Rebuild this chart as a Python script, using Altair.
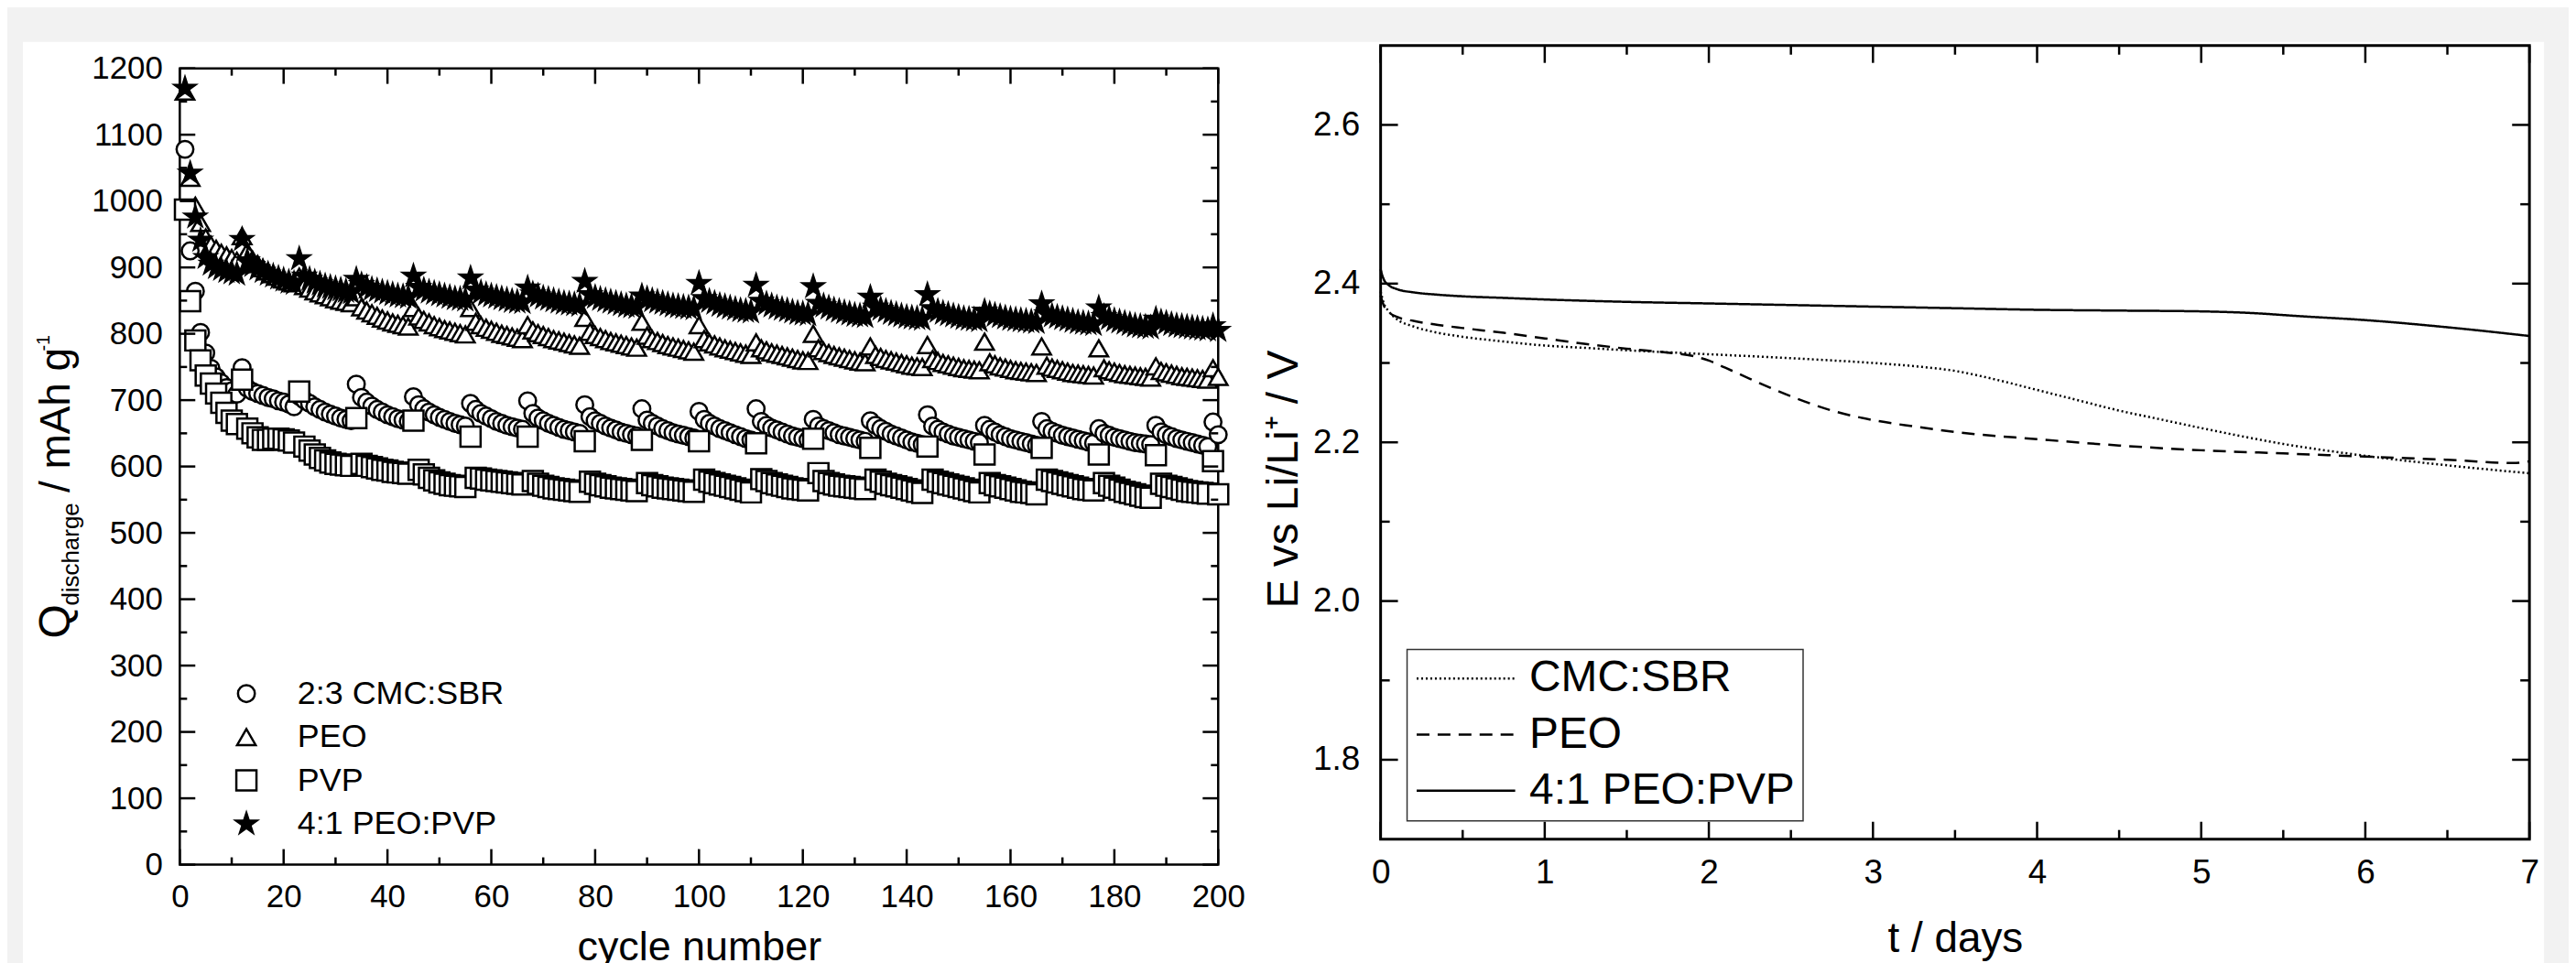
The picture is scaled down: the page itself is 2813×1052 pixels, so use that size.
import altair as alt
import pandas as pd

FONT = "Liberation Sans"

# ---------------- left panel data (discharge capacity vs cycle) ----------------
cycles = list(range(1, 201))
names_left = ["2:3 CMC:SBR", "PEO", "PVP", "4:1 PEO:PVP"]

cmc_sbr = [
    1078, 925, 864, 802, 771, 748, 735, 726, 719, 714, 709,
    749, 718, 713, 710, 707, 704, 702, 699, 697, 694, 690,
    706, 700, 695, 690, 686, 682, 679, 676, 673, 671, 669,
    724, 704, 697, 691, 686, 682, 678, 675, 672, 670, 668,
    705, 693, 687, 682, 678, 674, 671, 668, 665, 663, 661,
    695, 686, 680, 676, 672, 668, 665, 662, 660, 658, 656,
    699, 680, 673, 669, 665, 662, 659, 656, 654, 652, 650,
    693, 675, 669, 665, 661, 658, 655, 652, 650, 648, 646,
    687, 670, 665, 661, 657, 654, 651, 649, 647, 645, 643,
    683, 671, 665, 661, 657, 654, 651, 648, 645, 642, 640,
    687, 668, 662, 658, 655, 652, 649, 646, 644, 642, 640,
    671, 661, 657, 654, 651, 648, 646, 644, 642, 640, 638,
    669, 662, 657, 653, 649, 646, 643, 640, 637, 635, 633,
    678, 661, 656, 652, 649, 646, 644, 642, 640, 638, 636,
    662, 656, 652, 648, 645, 642, 640, 638, 636, 634, 632,
    668, 657, 653, 650, 647, 645, 643, 641, 639, 637, 635,
    657, 650, 647, 644, 642, 640, 638, 636, 635, 634, 633,
    662, 652, 648, 645, 642, 640, 638, 636, 634, 632, 630,
    667, 648,
]
peo = [
    1165, 1035, 993, 967, 945, 934, 928, 922, 918, 914, 910,
    947, 924, 912, 905, 899, 894, 890, 886, 882, 879, 876,
    886, 872, 868, 864, 861, 858, 855, 852, 850, 848, 846,
    855, 840, 835, 831, 827, 823, 820, 817, 815, 813, 811,
    839, 826, 821, 817, 813, 810, 807, 805, 803, 801, 799,
    839, 818, 813, 809, 806, 803, 800, 798, 796, 794, 792,
    813, 805, 801, 798, 795, 792, 790, 788, 786, 784, 782,
    824, 803, 798, 795, 792, 789, 787, 785, 783, 781, 779,
    818, 797, 792, 789, 786, 783, 781, 779, 777, 775, 773,
    813, 792, 787, 784, 781, 778, 776, 774, 772, 770, 768,
    787, 778, 775, 772, 770, 768, 766, 764, 762, 760, 759,
    800, 778, 774, 771, 768, 766, 764, 762, 760, 758, 757,
    781, 768, 765, 762, 760, 758, 756, 754, 752, 751, 750,
    783, 762, 759, 756, 754, 752, 750, 748, 747, 746, 745,
    788, 757, 754, 751, 749, 747, 745, 744, 743, 742, 741,
    781, 752, 749, 747, 745, 743, 741, 740, 739, 738, 737,
    778, 748, 745, 743, 741, 739, 738, 737, 736, 735, 734,
    751, 744, 742, 740, 738, 736, 735, 734, 733, 732, 731,
    748, 735,
]
pvp = [
    987, 849, 790, 760, 737, 725, 710, 696, 681, 669, 664,
    731, 657, 650, 644, 640, 640, 642, 642, 641, 639, 636,
    713, 630, 624, 618, 613, 609, 606, 604, 603, 602, 601,
    673, 604, 601, 599, 597, 595, 594, 592, 591, 590, 589,
    669, 595, 588, 583, 579, 576, 574, 572, 571, 570, 569,
    645, 583, 582, 580, 579, 578, 577, 576, 575, 574, 573,
    645, 578, 574, 571, 569, 567, 566, 565, 564, 563, 562,
    638, 577, 574, 572, 570, 568, 567, 566, 565, 564, 563,
    640, 575, 572, 570, 568, 567, 566, 565, 564, 563, 562,
    638, 580, 577, 575, 573, 571, 569, 567, 565, 563, 561,
    635, 581, 578, 575, 573, 571, 569, 567, 566, 565, 564,
    642, 590, 578, 575, 573, 571, 570, 569, 568, 567, 566,
    628, 580, 577, 574, 572, 570, 568, 566, 564, 562, 560,
    630, 580, 577, 575, 573, 571, 569, 567, 565, 563, 561,
    618, 575, 572, 570, 568, 566, 564, 562, 561, 560, 558,
    628, 580, 578, 576, 574, 572, 570, 568, 566, 565, 564,
    618, 575, 571, 568, 565, 562, 560, 558, 556, 554, 553,
    617, 574, 571, 569, 567, 565, 563, 562, 561, 560, 559,
    608, 558,
]
peo_pvp = [
    1170, 1042, 976, 941, 915, 905, 900, 897, 894, 892, 890,
    942, 910, 903, 898, 894, 890, 887, 884, 881, 878, 876,
    913, 887, 882, 878, 875, 872, 870, 868, 866, 864, 862,
    882, 874, 870, 867, 865, 863, 861, 859, 857, 856, 855,
    887, 870, 866, 863, 861, 859, 857, 855, 853, 852, 851,
    884, 866, 862, 859, 857, 855, 853, 851, 849, 848, 847,
    869, 860, 857, 854, 852, 850, 848, 846, 845, 844, 843,
    879, 859, 855, 852, 850, 848, 846, 844, 842, 841, 840,
    857, 853, 850, 848, 846, 844, 842, 841, 840, 839, 838,
    876, 853, 849, 846, 843, 841, 839, 837, 835, 834, 833,
    873, 849, 845, 842, 839, 837, 835, 833, 831, 830, 829,
    871, 846, 842, 839, 836, 834, 832, 830, 828, 827, 826,
    855, 840, 837, 834, 831, 829, 827, 825, 824, 823, 822,
    859, 838, 834, 831, 829, 827, 825, 823, 822, 821, 820,
    834, 830, 828, 826, 824, 822, 821, 820, 819, 818, 817,
    845, 830, 827, 825, 823, 821, 819, 817, 816, 815, 814,
    839, 826, 823, 820, 818, 816, 814, 812, 811, 810, 809,
    822, 818, 816, 814, 812, 811, 810, 809, 808, 807, 806,
    812, 805,
]

left_x_major = [0, 20, 40, 60, 80, 100, 120, 140, 160, 180, 200]
left_x_minor = [10, 30, 50, 70, 90, 110, 130, 150, 170, 190]
left_y_major = [0, 100, 200, 300, 400, 500, 600, 700, 800, 900, 1000, 1100, 1200]
left_y_minor = [50, 150, 250, 350, 450, 550, 650, 750, 850, 950, 1050, 1150]

# ---------------- right panel data (OCV vs time) ----------------
names_right = ["CMC:SBR", "PEO", "4:1 PEO:PVP"]
t_cmc = [0, 0.02, 0.05, 0.1, 0.2, 0.35, 0.5, 0.75, 1, 1.25, 1.5, 2, 2.5, 3, 3.25,
         3.5, 3.75, 4, 4.25, 4.5, 4.75, 5, 5.5, 6, 6.5, 7]
e_cmc = [2.39, 2.375, 2.365, 2.355, 2.346, 2.338, 2.333, 2.327, 2.322, 2.319, 2.316,
         2.311, 2.306, 2.300, 2.296, 2.290, 2.279, 2.266, 2.253, 2.240, 2.229, 2.218,
         2.198, 2.183, 2.171, 2.161]
t_peo = [0, 0.02, 0.05, 0.1, 0.2, 0.35, 0.5, 0.75, 1, 1.25, 1.5, 1.75, 1.9, 2.0, 2.1,
         2.25, 2.5, 2.75, 3, 3.25, 3.5, 4, 4.5, 5, 5.5, 6, 6.5, 6.9, 7]
e_peo = [2.385, 2.372, 2.364, 2.358, 2.353, 2.348, 2.344, 2.338, 2.331, 2.324, 2.318,
         2.313, 2.309, 2.303, 2.294, 2.280, 2.258, 2.240, 2.228, 2.220, 2.213, 2.204,
         2.196, 2.190, 2.186, 2.182, 2.178, 2.174, 2.176]
t_mix = [0, 0.02, 0.05, 0.1, 0.2, 0.35, 0.5, 0.75, 1, 1.5, 2, 2.5, 3, 3.5, 4, 4.5,
         5, 5.3, 5.6, 6, 6.5, 7]
e_mix = [2.418, 2.405, 2.398, 2.393, 2.389, 2.386, 2.384, 2.382, 2.380, 2.377, 2.375,
         2.373, 2.371, 2.369, 2.367, 2.366, 2.365, 2.363, 2.359, 2.354, 2.345, 2.334]

right_x_major = [0, 1, 2, 3, 4, 5, 6, 7]
right_x_minor = [0.5, 1.5, 2.5, 3.5, 4.5, 5.5, 6.5]
right_y_major = [1.8, 2.0, 2.2, 2.4, 2.6]
right_y_minor = [1.9, 2.1, 2.3, 2.5]

# ---------------- tables ----------------
rows = []
for name, vals in zip(names_left, [cmc_sbr, peo, pvp, peo_pvp]):
    for c, v in zip(cycles, vals):
        rows.append({"cycle": c, "Q": v, "binder": name})
df_left = pd.DataFrame(rows)
df_left["order"] = range(len(df_left))

rows = []
for name, ts, es in zip(names_right, [t_cmc, t_peo, t_mix], [e_cmc, e_peo, e_mix]):
    for t, e in zip(ts, es):
        rows.append({"t": t, "E": e, "binder": name})
df_right = pd.DataFrame(rows)

one = pd.DataFrame({"a": [0]})

# ---------------- geometry ----------------
LW, LH = 1138, 898      # left panel (plot top sits 25 px below group top)
LTOP = 25
RW, RH = 1259, 870
RX0 = LW + 178           # right panel origin relative to the left one

STAR = ("M0,-1L0.2245,-0.309L0.9511,-0.309L0.3633,0.118L0.5878,0.809L0,0.382"
        "L-0.5878,0.809L-0.3633,0.118L-0.9511,-0.309L-0.2245,-0.309Z")


def rules_x(values, scale, axis, y0, y1, w=2.5):
    return alt.Chart(pd.DataFrame({"v": values})).mark_rule(color="black", strokeWidth=w).encode(
        x=alt.X("v:Q", scale=scale, axis=axis), y=alt.value(y0), y2=alt.value(y1))


def rules_y(values, scale, axis, x0, x1, w=2.5):
    return alt.Chart(pd.DataFrame({"v": values})).mark_rule(color="black", strokeWidth=w).encode(
        y=alt.Y("v:Q", scale=scale, axis=axis), x=alt.value(x0), x2=alt.value(x1))


def label(txt, x, y, size):
    return alt.Chart(one).mark_text(text=txt, font=FONT, fontSize=size, angle=270,
                                    align="left", baseline="alphabetic", color="black").encode(
        x=alt.value(x), y=alt.value(y))


# ---------------- left chart ----------------
lxs = alt.Scale(domain=[0, 200], nice=False, zero=False)
lys = alt.Scale(domain=[0, 1200], range=[LH, LTOP], nice=False, zero=False)

lx_axis = alt.Axis(values=left_x_major, title="cycle number", titleFontSize=45,
                   titleFontWeight="normal", titleBaseline="alphabetic", titleY=104,
                   labelFontSize=35, labelPadding=18, labelFlush=False,
                   labelOverlap=False, ticks=False, tickSize=0, domain=False,
                   grid=False, zindex=1)
ly_axis = alt.Axis(values=left_y_major, title=None, format="d",
                   labelFontSize=35, labelPadding=19, labelOverlap=False,
                   ticks=False, tickSize=0, domain=False, grid=False, zindex=1)

backdrop = alt.Chart(one).mark_rect(color="white").encode(
    x=alt.value(-172), x2=alt.value(2591), y=alt.value(-4), y2=alt.value(1025))

lframe = alt.Chart(one).mark_rect(fill="transparent", stroke="black", strokeWidth=2.5).encode(
    x=alt.value(0), x2=alt.value(LW), y=alt.value(LTOP), y2=alt.value(LH))

leg_left = alt.Legend(orient="none", legendX=55, legendY=693, title=None,
                      labelFontSize=36, labelFont=FONT, labelOffset=38, rowPadding=10.6,
                      clipHeight=35, padding=0, labelLimit=800, symbolStrokeColor="black",
                      symbolStrokeWidth=2.5, zindex=1)

points = alt.Chart(df_left).mark_point(filled=True, opacity=1, strokeWidth=2.5).encode(
    x=alt.X("cycle:Q", scale=lxs, axis=lx_axis),
    y=alt.Y("Q:Q", scale=lys, axis=ly_axis),
    shape=alt.Shape("binder:N", scale=alt.Scale(domain=names_left,
                                                range=["circle", "triangle-up", "square", STAR]),
                    legend=leg_left),
    fill=alt.Fill("binder:N", scale=alt.Scale(domain=names_left,
                                              range=["white", "white", "white", "black"]),
                  legend=leg_left),
    stroke=alt.Stroke("binder:N", scale=alt.Scale(domain=names_left,
                                                  range=["black", "black", "black", "black"]),
                      legend=leg_left),
    size=alt.Size("binder:N", scale=alt.Scale(domain=names_left, range=[340, 560, 320, 520]),
                  legend=leg_left),
    order=alt.Order("order:Q"),
)

left = alt.layer(
    backdrop,
    lframe,
    points,
    rules_x(left_x_major, lxs, lx_axis, LH, LH - 17),
    rules_x(left_x_major, lxs, lx_axis, LTOP, LTOP + 17),
    rules_x(left_x_minor, lxs, lx_axis, LH, LH - 8),
    rules_x(left_x_minor, lxs, lx_axis, LTOP, LTOP + 8),
    rules_y(left_y_major, lys, ly_axis, 0, 17),
    rules_y(left_y_major, lys, ly_axis, LW, LW - 17),
    rules_y(left_y_minor, lys, ly_axis, 0, 8),
    rules_y(left_y_minor, lys, ly_axis, LW, LW - 8),
    label("Q", -121, 650, 48),
    label("discharge", -111, 614, 26),
    label("/ mAh g", -121, 490, 46),
    label("-1", -143, 335, 20),
).properties(width=LW, height=LH)

# ---------------- right chart ----------------
rxs = alt.Scale(domain=[0, 7], nice=False, zero=False)
rys = alt.Scale(domain=[1.7, 2.7], nice=False, zero=False)

rx_axis = alt.Axis(values=right_x_major, title="t / days", titleFontSize=46,
                   titleFontWeight="normal", titleBaseline="alphabetic", titleY=123,
                   labelFontSize=37, labelPadding=19, labelFlush=False,
                   labelOverlap=False, ticks=False, tickSize=0, domain=False,
                   grid=False, zindex=1)
ry_axis = alt.Axis(values=right_y_major, format=".1f", title="E vs Li/Li\u207a / V",
                   titleFontSize=48, titleFontWeight="normal", titleAngle=270,
                   titleAlign="center", titleBaseline="alphabetic",
                   titleX=-91, titleY=475,
                   labelFontSize=37, labelPadding=23, labelOverlap=False,
                   ticks=False, tickSize=0, domain=False, grid=False, zindex=1)

rframe = alt.Chart(one).mark_rect(fill="transparent", stroke="black", strokeWidth=3).encode(
    x=alt.value(0), x2=alt.value(RW), y=alt.value(0), y2=alt.value(RH))

leg_right = alt.Legend(orient="none", legendX=RX0 + 29, legendY=662, title=None,
                       labelFontSize=48, labelFont=FONT, labelOffset=14, rowPadding=13.5,
                       clipHeight=46, padding=9, labelLimit=800, symbolType="stroke",
                       symbolSize=11664, symbolStrokeColor="black", strokeColor="#333333",
                       fillColor="white", zindex=1)

lines = alt.Chart(df_right).mark_line(interpolate="monotone", color="black").encode(
    x=alt.X("t:Q", scale=rxs, axis=rx_axis),
    y=alt.Y("E:Q", scale=rys, axis=ry_axis),
    strokeDash=alt.StrokeDash("binder:N", scale=alt.Scale(domain=names_right,
                                                          range=[[2, 3], [14, 9], [1, 0]]),
                              legend=leg_right),
    strokeWidth=alt.StrokeWidth("binder:N", scale=alt.Scale(domain=names_right,
                                                            range=[2.5, 2.5, 3]),
                                legend=leg_right),
)

right = alt.layer(
    rframe,
    lines,
    rules_x(right_x_major, rxs, rx_axis, RH, RH - 19),
    rules_x(right_x_major, rxs, rx_axis, 0, 19),
    rules_x(right_x_minor, rxs, rx_axis, RH, RH - 10),
    rules_x(right_x_minor, rxs, rx_axis, 0, 10),
    rules_y(right_y_major, rys, ry_axis, 0, 19),
    rules_y(right_y_major, rys, ry_axis, RW, RW - 19),
    rules_y(right_y_minor, rys, ry_axis, 0, 10),
    rules_y(right_y_minor, rys, ry_axis, RW, RW - 10),
).properties(width=RW, height=RH)

chart = alt.hconcat(left, right, spacing=178, bounds="flush").properties(
    background="#f2f2f2",
    padding={"left": 16, "top": 35, "right": 26, "bottom": 0},
).configure(font=FONT).configure_view(stroke="transparent").configure_legend(
    strokeWidth=1.5
).configure_axis(labelColor="black", titleColor="black")

chart.save("out.html", embed_options={"renderer": "svg", "actions": False})
